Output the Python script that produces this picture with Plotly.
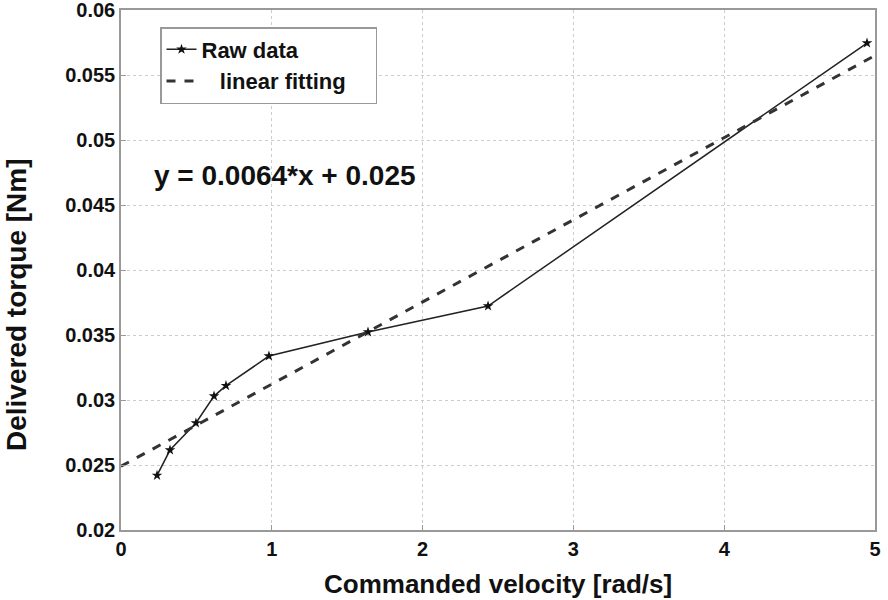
import plotly.graph_objects as go

# Raw data
velocity = [0.239, 0.325, 0.497, 0.617, 0.696, 0.981, 1.638, 2.434, 4.947]
torque = [0.0242, 0.02615, 0.02823, 0.0303, 0.0311, 0.03338, 0.03523, 0.03723, 0.05746]

# Linear fitting line endpoints
fit_x = [0, 5]
fit_y = [0.0249, 0.0565]

x_ticks = [0, 1, 2, 3, 4, 5]
y_ticks = [0.02, 0.025, 0.03, 0.035, 0.04, 0.045, 0.05, 0.055, 0.06]
y_tick_text = ["0.02", "0.025", "0.03", "0.035", "0.04", "0.045", "0.05", "0.055", "0.06"]

equation_text = "y = 0.0064*x + 0.025"
x_title = "Commanded velocity [rad/s]"
y_title = "Delivered torque [Nm]"

font_family = "Liberation Sans, Arial, sans-serif"

W, H = 888, 600
L, R, T, B = 121, 13, 10, 70
PW, PH = W - L - R, H - T - B


def px_x(p):
    return (p - L) / PW


def px_y(p):
    return (H - B - p) / PH


fig = go.Figure()
fig.add_trace(go.Scatter(
    x=velocity, y=torque, mode="lines+markers", name="Raw data",
    line=dict(color="#222222", width=1.5),
    marker=dict(symbol="star", size=8, color="#111111"),
))
fig.add_trace(go.Scatter(
    x=fit_x, y=fit_y, mode="lines", name="   linear fitting&nbsp;&nbsp;&nbsp;&nbsp;",
    line=dict(color="#333333", width=3, dash="dash"),
))

fig.add_annotation(
    x=px_x(152), y=px_y(175), xref="paper", yref="paper",
    text=equation_text, showarrow=False, xanchor="left", yanchor="middle",
    font=dict(family=font_family, size=28, color="#111111", weight="bold"),
)
fig.add_annotation(
    x=px_x(498), y=px_y(584), xref="paper", yref="paper",
    text=x_title, showarrow=False, xanchor="center", yanchor="middle",
    font=dict(family=font_family, size=26, color="#111111", weight="bold"),
)
fig.add_annotation(
    x=px_x(16), y=px_y(305), xref="paper", yref="paper", textangle=-90,
    text=y_title, showarrow=False, xanchor="center", yanchor="middle",
    font=dict(family=font_family, size=28, color="#111111", weight="bold"),
)

axis_common = dict(
    showgrid=True, gridcolor="#cccccc", griddash="dot", gridwidth=1,
    showline=True, linecolor="#999999", linewidth=1.5, mirror=True,
    ticks="inside", ticklen=5, tickcolor="#999999",
    zeroline=False, automargin=False, ticklabeloverflow="allow",
    tickfont=dict(family=font_family, size=20, color="#111111", weight="bold"),
)

fig.update_layout(
    width=W, height=H,
    margin=dict(l=L, r=R, t=T, b=B),
    paper_bgcolor="white", plot_bgcolor="white",
    font=dict(family=font_family, color="#111111"),
    xaxis=dict(range=[0, 5], tickvals=x_ticks, **axis_common),
    yaxis=dict(range=[0.02, 0.06], tickvals=y_ticks, ticktext=y_tick_text, **axis_common),
    legend=dict(
        x=px_x(160), y=px_y(27), xanchor="left", yanchor="top",
        bgcolor="white", bordercolor="#999999", borderwidth=1.5,
        font=dict(family=font_family, size=22, color="#111111", weight="bold"),
        tracegroupgap=0, itemwidth=30,
    ),
    showlegend=True,
)

fig.write_html(
    "out.html",
    config={"displayModeBar": False},
    post_script="document.body.style.margin='0';document.body.style.overflow='hidden';",
)
